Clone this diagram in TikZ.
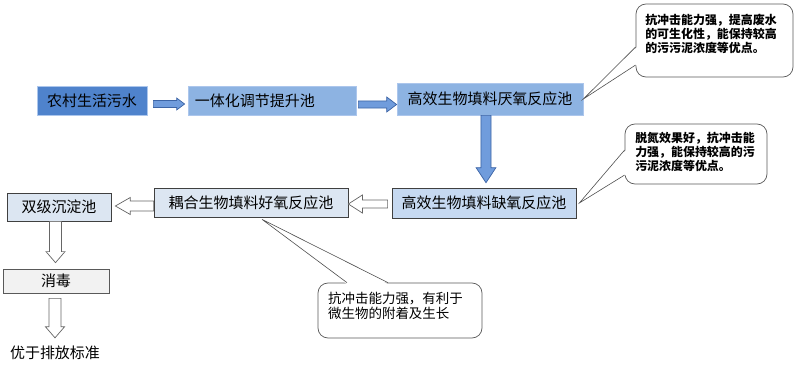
\documentclass[tikz,border=0pt]{standalone}
\usepackage{fontspec}
\setmainfont{Noto Sans CJK SC}
\usetikzlibrary{calc}

\definecolor{rawblue}{RGB}{79,131,204}
\definecolor{midblue}{RGB}{141,179,226}
\definecolor{edgeblue}{RGB}{172,198,236}
\definecolor{lightblue}{RGB}{198,217,241}
\definecolor{paleblue}{RGB}{220,230,242}
\definecolor{arrowblue}{RGB}{112,156,220}
\definecolor{arrowedge}{RGB}{60,100,165}
\definecolor{softgray}{RGB}{242,242,242}

% horizontal block arrow: style, from, to, shaft half, head half, head length
\newcommand\harrow[6]{%
  \path[#1] let \p1=(#2), \p2=(#3), \p3=($(\x2,\y1)!#6!(\x1,\y1)$) in
    (\x1,\y1+#4) -- (\x3,\y1+#4) -- (\x3,\y1+#5) -- (\x2,\y1)
    -- (\x3,\y1-#5) -- (\x3,\y1-#4) -- (\x1,\y1-#4) -- cycle;}
% vertical block arrow, same arguments
\newcommand\varrow[6]{%
  \path[#1] let \p1=(#2), \p2=(#3), \p3=($(\x1,\y2)!#6!(\x1,\y1)$) in
    (\x1+#4,\y1) -- (\x1+#4,\y3) -- (\x1+#5,\y3) -- (\x1,\y2)
    -- (\x1-#5,\y3) -- (\x1-#4,\y3) -- (\x1-#4,\y1) -- cycle;}

\begin{document}
\begin{tikzpicture}[
  x=0.03cm, y=-0.03cm,
  proc/.style={draw, inner sep=0pt, line width=0.6pt,
    font=\fontsize{12.8pt}{15pt}\selectfont},
  top proc/.style={proc, fill=midblue, draw=edgeblue},
  low proc/.style={proc, draw=black!75},
  note/.style={draw=black!65, fill=white, rounded corners=0.3cm, line width=0.6pt},
  note text/.style={inner sep=0pt, align=left,
    font=\fontsize{10.2pt}{12pt}\selectfont\bfseries},
  pointer/.style={draw=black!70, line width=0.5pt},
  blue arrow/.style={fill=arrowblue, draw=arrowedge, line width=0.6pt},
  white arrow/.style={fill=white, draw=black!60, line width=0.6pt}
]
  \useasboundingbox (0,0) rectangle (800,365);

  % main process line, top row
  \node[proc, fill=rawblue, draw=edgeblue, minimum width=3.3cm, minimum height=0.87cm]
    (raw) at (92,100.5) {农村生活污水};
  \node[top proc, minimum height=0.87cm, text width=4.62cm, inner xsep=0.21cm, align=left]
    (equal) at (272,100.5) {一体化调节提升池};
  \node[top proc, minimum width=5.58cm, minimum height=0.96cm]
    (anaer) at (490,99) {高效生物填料厌氧反应池};

  % second row, running back to the left
  \node[low proc, fill=lightblue, minimum width=5.52cm, minimum height=0.9cm]
    (anox) at (484,203) {高效生物填料缺氧反应池};
  \node[low proc, fill=paleblue, minimum width=5.82cm, minimum height=0.87cm]
    (aero) at (251,202.5) {耦合生物填料好氧反应池};
  \node[low proc, fill=paleblue, minimum width=3.12cm, minimum height=0.84cm]
    (settle) at (59,207) {双级沉淀池};

  % left column
  \node[low proc, fill=softgray, draw=black!65, minimum width=3.18cm, minimum height=0.72cm]
    (disinf) at (56,281) {消毒};
  \node[inner sep=0pt, font=\fontsize{12.8pt}{15pt}\selectfont]
    (out) at (55,353) {优于排放标准};

  % block arrows between the steps
  \harrow{blue arrow}{$(raw.east)+(6,3.5)$}{$(equal.west)+(-3,3.5)$}{3pt}{5.1pt}{6.8pt}
  \harrow{blue arrow}{$(equal.east)+(2,4)$}{anaer.west}{3pt}{6.4pt}{8.5pt}
  \varrow{blue arrow}{$(anaer.south)+(-4,0)$}{$(anox.north)+(0,-5)$}{4.3pt}{8.5pt}{12.8pt}
  \harrow{white arrow}{$(anox.west)+(-4,1)$}{aero.east}{3.4pt}{7.7pt}{12pt}
  \harrow{white arrow}{$(aero.west)+(0,3.5)$}{$(settle.east)+(4,0)$}{4.3pt}{7.3pt}{12.8pt}
  \varrow{white arrow}{$(settle.south)+(-3.5,0)$}{$(disinf.north)+(0,-6)$}{5.1pt}{8.1pt}{9.4pt}
  \varrow{white arrow}{$(disinf.south)+(-1,5)$}{$(out.north)+(0,-8)$}{5.1pt}{8.1pt}{9.4pt}

  % callout for the anaerobic tank
  \node[note, minimum width=4.71cm, minimum height=2.19cm] (noteA) at (714.5,40.5) {};
  \coordinate (A1) at ($(noteA.west)+(0,6.5)$);
  \coordinate (A2) at ($(noteA.west)+(0,24.5)$);
  \fill[white] ($(A1)+(1.5,0)$) -- (anaer.east) -- ($(A2)+(1.5,0)$) -- cycle;
  \draw[pointer] (A1) -- (anaer.east) -- (A2);
  \node[note text] (textA) at (711,34)
    {抗冲击能力强，提高废水\\的可生化性，能保持较高\\的污污泥浓度等优点。};

  % callout for the anoxic tank
  \node[note, minimum width=4.26cm, minimum height=1.8cm] (noteB) at (696,154) {};
  \coordinate (B1) at ($(noteB.west)+(0,-4)$);
  \coordinate (B2) at ($(noteB.west)+(0,21)$);
  \coordinate (Btip) at ($(anox.east)+(3,0)$);
  \fill[white] ($(B1)+(1.5,0)$) -- (Btip) -- ($(B2)+(1.5,0)$) -- cycle;
  \draw[pointer] (B1) -- (Btip) -- (B2);
  \node[note text] (textB) at (695,152)
    {脱氮效果好，抗冲击能\\力强，能保持较高的污\\污泥浓度等优点。};

  % callout for the aerobic tank
  \node[note, minimum width=4.92cm, minimum height=1.65cm] (noteC) at (400,310.5) {};
  \coordinate (C1) at ($(noteC.north)+(-53,0)$);
  \coordinate (C2) at ($(noteC.north)+(-12,0)$);
  \coordinate (Ctip) at ($(aero.south)+(11,2)$);
  \fill[white] ($(C1)+(0,1.5)$) -- (Ctip) -- ($(C2)+(0,1.5)$) -- cycle;
  \draw[pointer] (C1) -- (Ctip) -- (C2);
  \node[note text, font=\fontsize{11.5pt}{12.8pt}\selectfont] (textC) at (395.5,305.5)
    {抗冲击能力强，有利于\\微生物的附着及生长};
\end{tikzpicture}
\end{document}
